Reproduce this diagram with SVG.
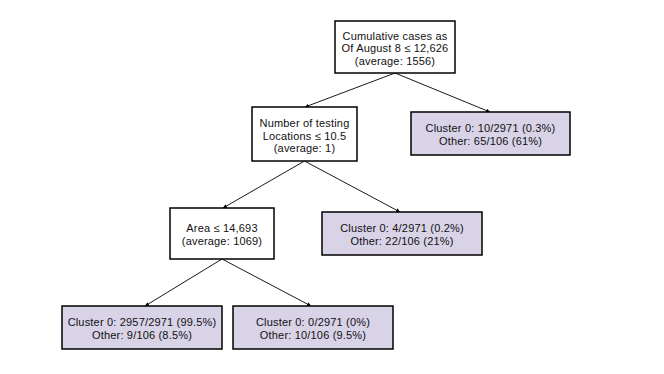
<svg xmlns="http://www.w3.org/2000/svg" width="664" height="374" viewBox="0 0 664 374">
<defs>
<style>
.node{fill:#ffffff;stroke:#000000;stroke-width:1.5}
.leaf{fill:#d9d3e8;stroke:#000000;stroke-width:1.5}
text{font-family:"Liberation Sans",Arial,sans-serif;font-size:11px;fill:#111111;text-anchor:middle;letter-spacing:0.18px}
.edge{stroke:#000000;stroke-width:0.9;fill:none;marker-end:url(#ah)}
</style>
<marker id="ah" viewBox="0 0 10 10" refX="10" refY="5" markerWidth="4" markerHeight="4" markerUnits="userSpaceOnUse" orient="auto">
<path d="M0,0 L10,5 L0,10 z" fill="#000000"/>
</marker>
</defs>
<rect x="0" y="0" width="664" height="374" fill="#ffffff"/>
<g id="connectors">
<line class="edge" x1="395" y1="73" x2="305" y2="107"/>
<line class="edge" x1="395" y1="73" x2="490" y2="112"/>
<line class="edge" x1="304.5" y1="161" x2="223" y2="208"/>
<line class="edge" x1="304.5" y1="161" x2="400" y2="212"/>
<line class="edge" x1="222" y1="259" x2="145" y2="306"/>
<line class="edge" x1="222" y1="259" x2="311" y2="306"/>
</g>
<g id="root">
<rect class="node" x="335" y="21" width="120" height="52"/>
<text x="395" y="39.5">Cumulative cases as</text>
<text x="395" y="52">Of August 8 ≤ 12,626</text>
<text x="395" y="64.5">(average: 1556)</text>
</g>
<g id="testing">
<rect class="node" x="252" y="107" width="105" height="54"/>
<text x="304.5" y="127">Number of testing</text>
<text x="304.5" y="139.5">Locations ≤ 10.5</text>
<text x="304.5" y="152">(average: 1)</text>
</g>
<g id="leaf-right">
<rect class="leaf" x="411" y="112" width="159" height="43"/>
<text x="490.5" y="132">Cluster 0: 10/2971 (0.3%)</text>
<text x="490.5" y="144.5">Other: 65/106 (61%)</text>
</g>
<g id="area">
<rect class="node" x="170" y="208" width="104" height="51"/>
<text x="222" y="232">Area ≤ 14,693</text>
<text x="222" y="244.5">(average: 1069)</text>
</g>
<g id="leaf-mid">
<rect class="leaf" x="322" y="212" width="160" height="43"/>
<text x="402" y="232">Cluster 0: 4/2971 (0.2%)</text>
<text x="402" y="244.5">Other: 22/106 (21%)</text>
</g>
<g id="leaf-bl">
<rect class="leaf" x="62" y="306" width="160" height="43"/>
<text x="142" y="326">Cluster 0: 2957/2971 (99.5%)</text>
<text x="142" y="338.5">Other: 9/106 (8.5%)</text>
</g>
<g id="leaf-br">
<rect class="leaf" x="233" y="306" width="160" height="43"/>
<text x="313" y="326">Cluster 0: 0/2971 (0%)</text>
<text x="313" y="338.5">Other: 10/106 (9.5%)</text>
</g>
</svg>
